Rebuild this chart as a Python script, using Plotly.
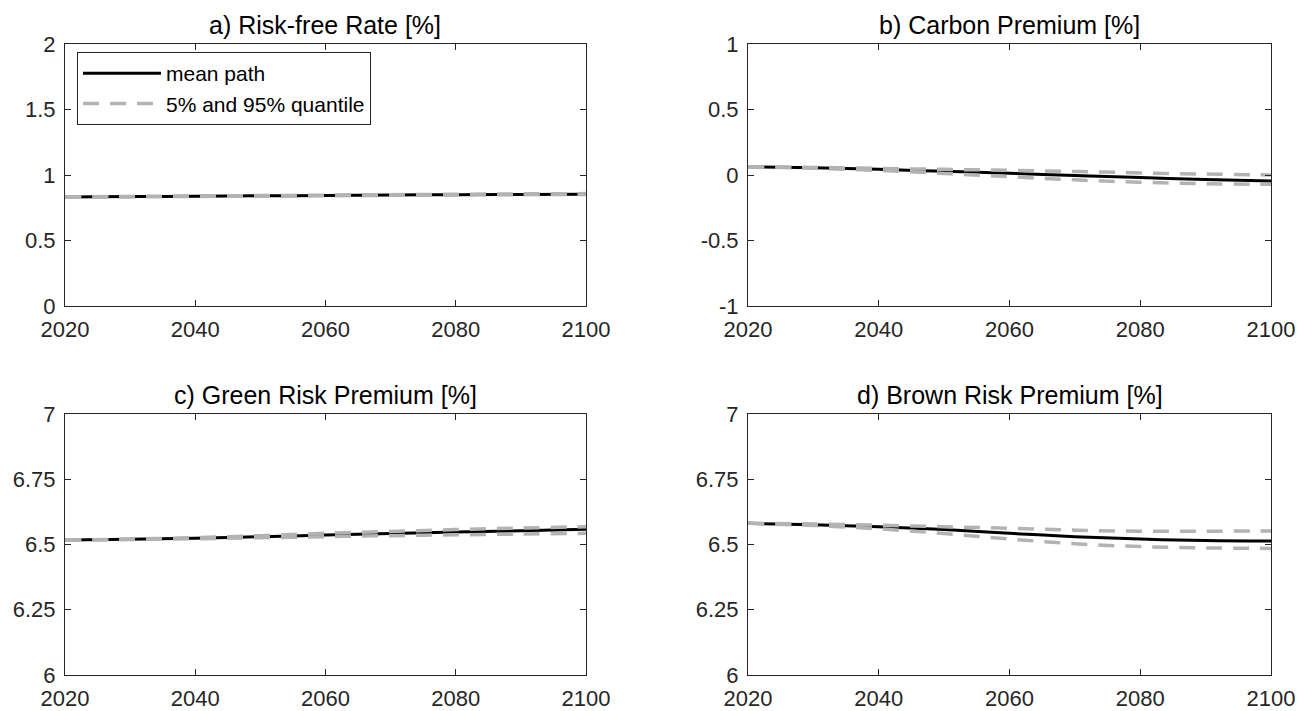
import plotly.graph_objects as go

years = [2020, 2030, 2040, 2050, 2060, 2070, 2080, 2090, 2100]

# a) Risk-free rate [%]
rf_mean = [0.832, 0.835, 0.838, 0.841, 0.844, 0.847, 0.850, 0.852, 0.854]
rf_q05 = [0.830, 0.833, 0.836, 0.839, 0.842, 0.845, 0.848, 0.850, 0.851]
rf_q95 = [0.833, 0.836, 0.840, 0.843, 0.846, 0.850, 0.853, 0.856, 0.858]

# b) Carbon premium [%]
cp_mean = [0.063, 0.055, 0.043, 0.028, 0.013, -0.004, -0.020, -0.034, -0.046]
cp_q05 = [0.063, 0.052, 0.035, 0.012, -0.013, -0.037, -0.055, -0.066, -0.071]
cp_q95 = [0.063, 0.058, 0.050, 0.043, 0.036, 0.027, 0.016, 0.007, 0.000]

# c) Green risk premium [%]
gr_mean = [6.517, 6.520, 6.524, 6.530, 6.536, 6.542, 6.548, 6.553, 6.558]
gr_q05 = [6.517, 6.519, 6.522, 6.526, 6.530, 6.534, 6.537, 6.540, 6.543]
gr_q95 = [6.517, 6.521, 6.526, 6.534, 6.543, 6.550, 6.557, 6.563, 6.568]

# d) Brown risk premium [%]
br_mean = [6.581, 6.576, 6.568, 6.557, 6.543, 6.530, 6.521, 6.515, 6.513]
br_q05 = [6.581, 6.573, 6.560, 6.542, 6.521, 6.503, 6.492, 6.487, 6.485]
br_q95 = [6.581, 6.579, 6.574, 6.568, 6.562, 6.555, 6.551, 6.551, 6.552]

titles = ["a) Risk-free Rate [%]", "b) Carbon Premium [%]",
          "c) Green Risk Premium [%]", "d) Brown Risk Premium [%]"]

x_ticks = [2020, 2040, 2060, 2080, 2100]
x_ticktext = ["2020", "2040", "2060", "2080", "2100"]
ya_ticks = [0, 0.5, 1, 1.5, 2]
ya_text = ["0", "0.5", "1", "1.5", "2"]
yb_ticks = [-1, -0.5, 0, 0.5, 1]
yb_text = ["-1", "-0.5", "0", "0.5", "1"]
ycd_ticks = [6, 6.25, 6.5, 6.75, 7]
ycd_text = ["6", "6.25", "6.5", "6.75", "7"]

panels = [
    (rf_mean, rf_q05, rf_q95, ya_ticks, ya_text, [0, 2]),
    (cp_mean, cp_q05, cp_q95, yb_ticks, yb_text, [-1, 1]),
    (gr_mean, gr_q05, gr_q95, ycd_ticks, ycd_text, [6, 7]),
    (br_mean, br_q05, br_q95, ycd_ticks, ycd_text, [6, 7]),
]

W, H = 1299, 711


def px(xp):
    return xp / W


def py(yp):
    return 1 - yp / H


xdoms = [[px(65), px(586)], [px(748), px(1271)]]
ydoms = [[py(306), py(44)], [py(675), py(414)]]

MEAN_COLOR = "#000000"
Q_COLOR = "#b3b3b3"
AX_COLOR = "#262626"
FONT = "Liberation Sans, Arial, Helvetica, sans-serif"

fig = go.Figure()

for i, (m, q05, q95, yt, ytt, yr) in enumerate(panels):
    k = "" if i == 0 else str(i + 1)
    xa, ya = "x" + k, "y" + k
    first = i == 0
    fig.add_trace(go.Scatter(x=years, y=m, mode="lines", xaxis=xa, yaxis=ya,
                             line=dict(color=MEAN_COLOR, width=3, shape="spline"),
                             name="mean path", showlegend=first, legendgroup="m"))
    fig.add_trace(go.Scatter(x=years, y=q05, mode="lines", xaxis=xa, yaxis=ya,
                             line=dict(color=Q_COLOR, width=3.5, dash="16px,11px", shape="spline"),
                             name="5% and 95% quantile", showlegend=first, legendgroup="q"))
    fig.add_trace(go.Scatter(x=years, y=q95, mode="lines", xaxis=xa, yaxis=ya,
                             line=dict(color=Q_COLOR, width=3.5, dash="16px,11px", shape="spline"),
                             name="5% and 95% quantile", showlegend=False, legendgroup="q"))
    r, c = divmod(i, 2)
    axis_common = dict(showline=True, linecolor=AX_COLOR, linewidth=1, mirror="allticks",
                       ticks="inside", ticklen=6, tickcolor=AX_COLOR, showgrid=False,
                       zeroline=False, automargin=False, ticklabeloverflow="allow",
                       tickfont=dict(family=FONT, size=22, color=AX_COLOR))
    fig.layout["xaxis" + k] = dict(domain=xdoms[c], range=[2020, 2100], anchor=ya,
                                   tickvals=x_ticks, ticktext=x_ticktext,
                                   ticklabelstandoff=4, **axis_common)
    fig.layout["yaxis" + k] = dict(domain=ydoms[r], range=yr, anchor=xa,
                                   tickvals=yt, ticktext=ytt,
                                   ticklabelstandoff=4, **axis_common)
    fig.add_annotation(text=titles[i], xref="paper", yref="paper",
                       x=(xdoms[c][0] + xdoms[c][1]) / 2, y=ydoms[r][1],
                       xanchor="center", yanchor="bottom", yshift=3, showarrow=False,
                       font=dict(family=FONT, size=25, color="#000000"))

fig.update_layout(
    width=W, height=H,
    margin=dict(l=0, r=0, t=0, b=0, pad=0, autoexpand=False),
    paper_bgcolor="white", plot_bgcolor="white",
    showlegend=True,
    legend=dict(x=px(77), y=py(52), xanchor="left", yanchor="top",
                bgcolor="white", bordercolor=AX_COLOR, borderwidth=1,
                font=dict(family=FONT, size=21, color="#000000"),
                itemwidth=78, tracegroupgap=0),
)

# remove the default page margin so the figure sits at the window corner
fig.write_html("out.html",
               config={"displayModeBar": False},
               post_script="document.body.style.margin='0';document.body.style.overflow='hidden';")
